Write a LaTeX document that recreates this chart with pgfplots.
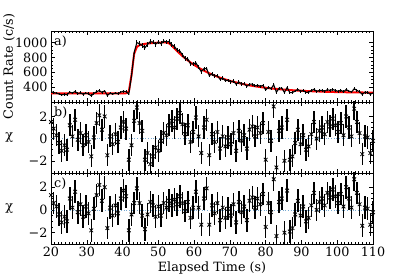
\documentclass[border=0pt]{standalone}
\usepackage{fontspec}
\setmainfont{DejaVu Serif}
\usepackage{pgfplots}
\pgfplotsset{compat=1.18}
\usepackage{pgfplotstable}
\definecolor{zl}{RGB}{120,170,210}
\pgfplotstableread{
t rate err model rb rc
20.00 338 18 315 1.5 1.3
20.75 326 18 315 0.9 0.6
21.50 320 18 315 0.3 0.3
22.25 308 18 315 -0.4 -0.4
23.00 296 18 315 -1.1 -1.1
23.75 304 18 315 -0.6 -0.6
24.50 297 18 315 -1.0 -1.0
25.25 333 18 315 1.2 1.0
26.00 319 18 315 0.2 0.2
26.75 343 18 315 1.7 1.6
27.50 311 18 315 -0.1 -0.2
28.25 324 18 315 0.5 0.5
29.00 304 18 315 -0.6 -0.6
29.75 320 18 315 0.3 0.3
30.50 310 18 315 -0.3 -0.3
31.25 283 18 315 -1.6 -1.8
32.00 317 18 315 0.1 0.1
32.75 338 18 315 1.4 1.3
33.50 354 18 315 2.1 2.2
34.25 329 18 315 0.8 0.8
35.00 350 18 315 2.0 2.0
35.75 287 18 315 -1.5 -1.6
36.50 319 18 315 0.2 0.2
37.25 306 18 315 -0.5 -0.5
38.00 322 18 315 0.4 0.4
38.75 310 18 315 -0.3 -0.3
39.50 333 18 315 1.0 1.0
40.25 345 18 315 1.5 1.7
41.00 339 18 318 0.9 1.2
41.75 307 18 340 -1.9 -1.8
42.50 551 24 560 -0.6 -0.4
43.25 868 29 850 1.6 0.6
44.00 998 31 940 2.8 1.9
44.75 984 31 965 1.4 0.6
45.50 959 31 975 0.7 -0.5
46.25 929 31 982 -1.9 -1.7
47.00 975 31 987 -1.3 -0.4
47.75 1012 31 990 -2.3 0.7
48.50 1006 32 993 -1.6 0.4
49.25 977 32 996 -0.8 -0.6
50.00 1007 32 998 -1.1 0.3
50.75 984 32 1000 -0.2 -0.5
51.50 1020 32 1001 0.5 0.6
52.25 1006 32 1000 0.3 0.2
53.00 1015 31 990 1.2 0.8
53.75 970 31 958 1.6 0.4
54.50 947 30 920 1.0 0.9
55.25 899 30 884 1.8 0.5
56.00 885 29 850 2.3 1.2
56.75 834 29 817 1.3 0.6
57.50 784 28 787 0.4 -0.1
58.25 778 28 759 1.2 0.7
59.00 713 27 732 -0.3 -0.7
59.75 712 27 707 0.6 0.2
60.50 726 26 684 1.9 1.6
61.25 667 26 662 0.2 0.2
62.00 608 25 641 -1.3 -1.3
62.75 647 25 622 1.0 1.0
63.50 650 25 603 1.7 1.9
64.25 555 24 586 -1.5 -1.3
65.00 580 24 570 0.4 0.4
65.75 548 24 555 -0.3 -0.3
66.50 555 23 541 0.6 0.6
67.25 506 23 527 -0.9 -0.9
68.00 520 23 515 0.2 0.2
68.75 487 22 503 -0.7 -0.7
69.50 494 22 492 0.1 0.1
70.25 470 22 481 -0.5 -0.5
71.00 483 22 472 0.5 0.5
71.75 439 22 463 -1.1 -1.1
72.50 469 21 454 0.7 0.7
73.25 442 21 446 -0.2 -0.2
74.00 444 21 438 0.3 0.3
74.75 412 21 431 -0.9 -0.9
75.50 440 21 424 0.8 0.8
76.25 440 20 418 1.1 1.1
77.00 416 20 412 0.2 0.2
77.75 426 20 406 1.0 1.0
78.50 411 20 401 0.5 0.5
79.25 424 20 396 1.4 1.4
80.00 362 20 392 -1.9 -1.5
80.75 399 20 387 0.6 0.6
81.50 379 20 383 -0.2 -0.2
82.25 432 19 379 2.9 2.7
83.00 331 19 376 -2.6 -2.3
83.75 386 19 372 0.7 0.7
84.50 388 19 369 1.0 1.0
85.25 328 19 366 -2.0 -2.0
86.00 395 19 363 1.7 1.7
86.75 325 19 361 -1.9 -1.9
87.50 328 19 358 -1.6 -1.6
88.25 348 19 356 -0.4 -0.4
89.00 369 19 354 0.8 0.8
89.75 343 19 352 -0.5 -0.5
90.50 356 19 350 0.3 0.3
91.25 329 19 348 -1.0 -1.0
92.00 333 19 346 -0.7 -0.7
92.75 352 19 345 0.4 0.4
93.50 371 19 343 1.5 1.5
94.25 342 19 342 0.0 0.0
95.00 354 18 341 0.7 0.7
95.75 357 18 339 1.0 1.0
96.50 345 18 338 0.4 0.4
97.25 365 18 337 1.5 1.5
98.00 356 18 336 1.1 1.1
98.75 368 18 335 1.8 1.8
99.50 356 18 334 1.2 1.2
100.25 344 18 333 0.6 0.6
101.00 358 18 332 1.4 1.4
101.75 337 18 332 0.3 0.3
102.50 367 18 331 2.0 2.0
103.25 348 18 330 1.0 1.0
104.00 334 18 330 0.2 0.2
104.75 378 18 329 2.7 2.7
105.50 356 18 329 1.5 1.5
106.25 337 18 328 0.5 0.5
107.00 303 18 328 -1.4 -1.4
107.75 331 18 327 0.2 0.2
108.50 329 18 327 0.1 0.1
109.25 303 18 326 -1.3 -1.3
110.00 322 18 326 -0.2 -0.2
}\dat
\pgfplotsset{
  common/.style={
    scale only axis, width=322bp, height=71bp,
    xmin=20, xmax=110, xtick={20,30,...,110},
    minor x tick num=9,
    tick align=inside, xtick pos=both, ytick pos=both,
    major tick length=4bp, minor tick length=2bp,
    every tick/.style={black, line width=0.5bp},
    axis line style={line width=0.7bp},
    /pgf/number format/assume math mode=true,
    /pgf/number format/1000 sep={},
    tick label style={font=\fontsize{12.8}{14}\selectfont},
    label style={font=\fontsize{12.8}{14}\selectfont},
    ylabel style={at={(axis description cs:-0.13,0.5)}, anchor=center},
    xlabel style={at={(axis description cs:0.5,-0.335)}, anchor=center},
  },
  resid/.style={
    common, ymin=-3.1, ymax=3.3, ytick={-2,0,2}, yticklabels={−2,0,2},
    minor y tick num=3, ylabel={χ},
    ylabel style={rotate=-90},
  },
}
\begin{document}
\begin{tikzpicture}
\useasboundingbox (0,0) rectangle (415bp,275bp);
% panel a
\begin{axis}[common, at={(51bp,173bp)}, anchor=south west,
  ymin=200, ymax=1155, ytick={400,600,800,1000}, minor y tick num=3,
  xticklabels=\empty, ylabel={Count Rate (c/s)}]
\addplot[red, line width=2bp] table[x=t, y=model] {\dat};
\addplot[black, line width=1.1bp, mark=none,
  error bars/.cd, y dir=both, y explicit, error mark=none,
  error bar style={line width=0.9bp}] table[x=t, y=rate, y error=err] {\dat};
\node[anchor=north west, inner sep=0pt, font=\fontsize{12.8}{14}\selectfont] at (rel axis cs:0,1) [xshift=3bp, yshift=-5bp] {a)};
\end{axis}
% panel b
\begin{axis}[resid, at={(51bp,102bp)}, anchor=south west, xticklabels=\empty]
\addplot[zl, dotted, line width=0.7bp] coordinates {(20,0) (110,0)};
\addplot[black, only marks, mark=x, mark size=2.6bp, line width=0.8bp,
  error bars/.cd, y dir=both, y fixed=1, error mark=none,
  error bar style={line width=1.5bp, black}] table[x=t, y=rb] {\dat};
\node[anchor=north west, inner sep=0pt, font=\fontsize{12.8}{14}\selectfont] at (rel axis cs:0,1) [xshift=3bp, yshift=-5bp] {b)};
\end{axis}
% panel c
\begin{axis}[resid, at={(51bp,31bp)}, anchor=south west, ymin=-3.0, ymax=3.25,
  xlabel={Elapsed Time (s)}]
\addplot[zl, dotted, line width=0.7bp] coordinates {(20,0) (110,0)};
\addplot[black, only marks, mark=x, mark size=2.6bp, line width=0.8bp,
  error bars/.cd, y dir=both, y fixed=1, error mark=none,
  error bar style={line width=1.5bp, black}] table[x=t, y=rc] {\dat};
\node[anchor=north west, inner sep=0pt, font=\fontsize{12.8}{14}\selectfont] at (rel axis cs:0,1) [xshift=3bp, yshift=-5bp] {c)};
\end{axis}
\end{tikzpicture}
\end{document}
